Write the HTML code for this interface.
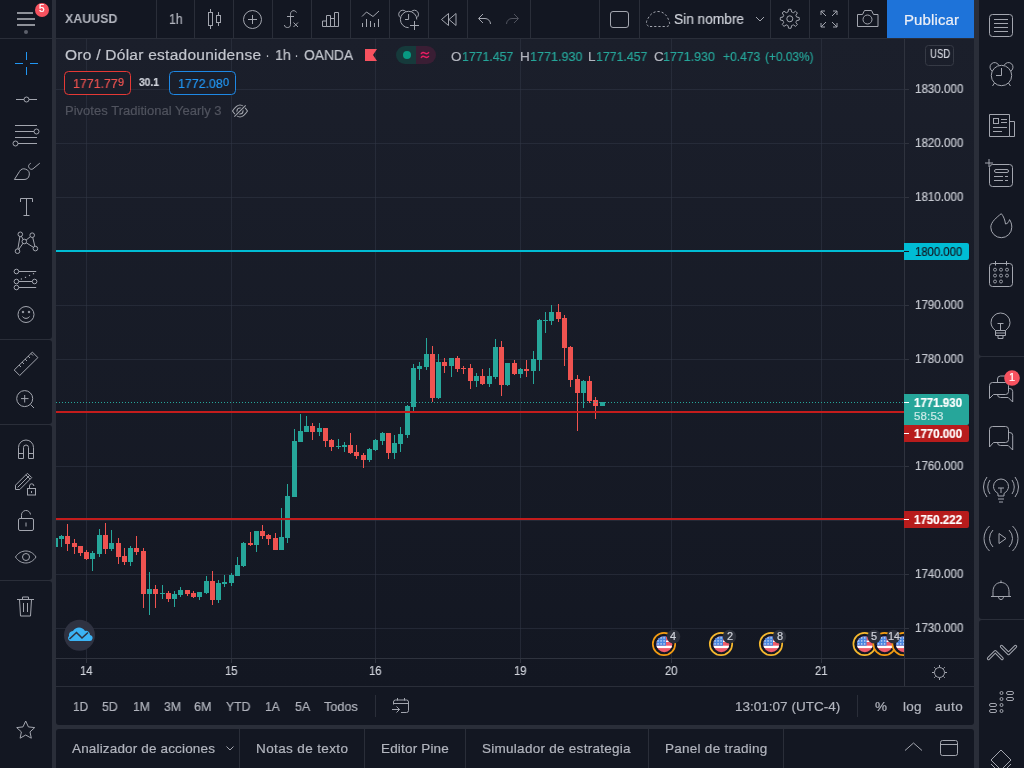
<!DOCTYPE html>
<html><head><meta charset="utf-8">
<style>
*{margin:0;padding:0;box-sizing:border-box}
html,body{width:1024px;height:768px;overflow:hidden;background:#131722;font-family:"Liberation Sans",sans-serif}
.a{position:absolute}
.t{position:absolute;white-space:pre;line-height:1;will-change:transform;-webkit-text-stroke:0.2px currentColor}
svg{position:absolute}
</style></head><body>
<div class="a" style="left:52px;top:0;width:4px;height:768px;background:#2a2e39"></div>
<div class="a" style="left:974px;top:0;width:5px;height:768px;background:#2a2e39"></div>
<div class="a" style="left:0;top:38px;width:974px;height:1px;background:#2a2e39"></div>
<div class="a" style="left:0;top:339px;width:52px;height:1px;background:#2a2e39"></div>
<div class="a" style="left:0;top:424px;width:52px;height:1px;background:#2a2e39"></div>
<div class="a" style="left:0;top:580px;width:52px;height:1px;background:#2a2e39"></div>
<div class="a" style="left:979px;top:356px;width:45px;height:1px;background:#2a2e39"></div>
<div class="a" style="left:979px;top:619px;width:45px;height:1px;background:#2a2e39"></div>
<div class="a" style="left:56px;top:725px;width:918px;height:4px;background:#2a2e39"></div>

<svg width="1024" height="768" style="left:0;top:0">
<defs><linearGradient id="cbg" x1="0" y1="0" x2="0" y2="1"><stop offset="0" stop-color="#1b1f2b"/><stop offset="1" stop-color="#131722"/></linearGradient><clipPath id="chart"><rect x="56" y="39" width="848" height="619"/></clipPath><clipPath id="ev"><rect x="56" y="39" width="848" height="619"/></clipPath></defs>
<rect x="56" y="39" width="918" height="647" fill="url(#cbg)"/>
<rect x="56" y="89" width="853" height="1" fill="rgba(50,54,70,0.55)"/>
<rect x="56" y="143" width="853" height="1" fill="rgba(50,54,70,0.55)"/>
<rect x="56" y="197" width="853" height="1" fill="rgba(50,54,70,0.55)"/>
<rect x="56" y="305" width="853" height="1" fill="rgba(50,54,70,0.55)"/>
<rect x="56" y="359" width="853" height="1" fill="rgba(50,54,70,0.55)"/>
<rect x="56" y="412" width="853" height="1" fill="rgba(50,54,70,0.55)"/>
<rect x="56" y="466" width="853" height="1" fill="rgba(50,54,70,0.55)"/>
<rect x="56" y="520" width="853" height="1" fill="rgba(50,54,70,0.55)"/>
<rect x="56" y="574" width="853" height="1" fill="rgba(50,54,70,0.55)"/>
<rect x="56" y="628" width="853" height="1" fill="rgba(50,54,70,0.55)"/>
<rect x="86" y="39" width="1" height="624" fill="rgba(50,54,70,0.55)"/>
<rect x="231" y="39" width="1" height="624" fill="rgba(50,54,70,0.55)"/>
<rect x="375" y="39" width="1" height="624" fill="rgba(50,54,70,0.55)"/>
<rect x="520" y="39" width="1" height="624" fill="rgba(50,54,70,0.55)"/>
<rect x="671" y="39" width="1" height="624" fill="rgba(50,54,70,0.55)"/>
<rect x="821" y="39" width="1" height="624" fill="rgba(50,54,70,0.55)"/>
<rect x="904" y="39" width="1" height="647" fill="#2f333e"/>
<rect x="56" y="658" width="918" height="1" fill="#2f333e"/>
<rect x="56" y="686" width="918" height="1" fill="#2a2e39"/>
<g fill="#2f333e"><rect x="904" y="89" width="5" height="1"/><rect x="904" y="143" width="5" height="1"/><rect x="904" y="197" width="5" height="1"/><rect x="904" y="305" width="5" height="1"/><rect x="904" y="359" width="5" height="1"/><rect x="904" y="412" width="5" height="1"/><rect x="904" y="466" width="5" height="1"/><rect x="904" y="520" width="5" height="1"/><rect x="904" y="574" width="5" height="1"/><rect x="904" y="628" width="5" height="1"/></g>
<g fill="#2f333e"><rect x="86" y="659" width="1" height="4"/><rect x="231" y="659" width="1" height="4"/><rect x="375" y="659" width="1" height="4"/><rect x="520" y="659" width="1" height="4"/><rect x="671" y="659" width="1" height="4"/><rect x="821" y="659" width="1" height="4"/></g>
<rect x="56" y="250" width="848" height="2" fill="#00bcd4"/>
<g clip-path="url(#chart)"><rect x="55" y="538" width="1" height="9" fill="#26a69a"/>
<rect x="53" y="538" width="5" height="9" fill="#26a69a"/>
<rect x="61" y="535" width="1" height="12" fill="#26a69a"/>
<rect x="59" y="536" width="5" height="3" fill="#26a69a"/>
<rect x="67" y="524" width="1" height="27" fill="#ef5350"/>
<rect x="65" y="536" width="5" height="8" fill="#ef5350"/>
<rect x="74" y="539" width="1" height="15" fill="#ef5350"/>
<rect x="72" y="543" width="5" height="4" fill="#ef5350"/>
<rect x="80" y="546" width="1" height="10" fill="#ef5350"/>
<rect x="78" y="546" width="5" height="7" fill="#ef5350"/>
<rect x="86" y="550" width="1" height="10" fill="#ef5350"/>
<rect x="84" y="552" width="5" height="7" fill="#ef5350"/>
<rect x="92" y="551" width="1" height="20" fill="#26a69a"/>
<rect x="90" y="553" width="5" height="6" fill="#26a69a"/>
<rect x="99" y="529" width="1" height="28" fill="#26a69a"/>
<rect x="97" y="535" width="5" height="19" fill="#26a69a"/>
<rect x="105" y="523" width="1" height="31" fill="#ef5350"/>
<rect x="103" y="535" width="5" height="14" fill="#ef5350"/>
<rect x="111" y="530" width="1" height="21" fill="#26a69a"/>
<rect x="109" y="543" width="5" height="6" fill="#26a69a"/>
<rect x="118" y="538" width="1" height="26" fill="#ef5350"/>
<rect x="116" y="543" width="5" height="14" fill="#ef5350"/>
<rect x="124" y="548" width="1" height="17" fill="#ef5350"/>
<rect x="122" y="556" width="5" height="6" fill="#ef5350"/>
<rect x="130" y="546" width="1" height="20" fill="#26a69a"/>
<rect x="128" y="548" width="5" height="14" fill="#26a69a"/>
<rect x="136" y="536" width="1" height="19" fill="#ef5350"/>
<rect x="134" y="548" width="5" height="4" fill="#ef5350"/>
<rect x="143" y="548" width="1" height="60" fill="#ef5350"/>
<rect x="141" y="551" width="5" height="43" fill="#ef5350"/>
<rect x="149" y="572" width="1" height="43" fill="#26a69a"/>
<rect x="147" y="589" width="5" height="5" fill="#26a69a"/>
<rect x="155" y="585" width="1" height="23" fill="#ef5350"/>
<rect x="153" y="589" width="5" height="5" fill="#ef5350"/>
<rect x="162" y="585" width="1" height="14" fill="#26a69a"/>
<rect x="160" y="593" width="5" height="1" fill="#26a69a"/>
<rect x="168" y="591" width="1" height="11" fill="#ef5350"/>
<rect x="166" y="593" width="5" height="6" fill="#ef5350"/>
<rect x="174" y="591" width="1" height="16" fill="#26a69a"/>
<rect x="172" y="594" width="5" height="5" fill="#26a69a"/>
<rect x="180" y="587" width="1" height="10" fill="#26a69a"/>
<rect x="178" y="590" width="5" height="5" fill="#26a69a"/>
<rect x="187" y="590" width="1" height="6" fill="#ef5350"/>
<rect x="185" y="590" width="5" height="4" fill="#ef5350"/>
<rect x="193" y="591" width="1" height="7" fill="#ef5350"/>
<rect x="191" y="593" width="5" height="4" fill="#ef5350"/>
<rect x="199" y="592" width="1" height="8" fill="#26a69a"/>
<rect x="197" y="592" width="5" height="5" fill="#26a69a"/>
<rect x="206" y="576" width="1" height="18" fill="#26a69a"/>
<rect x="204" y="581" width="5" height="12" fill="#26a69a"/>
<rect x="212" y="571" width="1" height="34" fill="#ef5350"/>
<rect x="210" y="581" width="5" height="19" fill="#ef5350"/>
<rect x="218" y="580" width="1" height="23" fill="#26a69a"/>
<rect x="216" y="583" width="5" height="17" fill="#26a69a"/>
<rect x="224" y="575" width="1" height="12" fill="#26a69a"/>
<rect x="222" y="582" width="5" height="2" fill="#26a69a"/>
<rect x="231" y="573" width="1" height="13" fill="#26a69a"/>
<rect x="229" y="575" width="5" height="8" fill="#26a69a"/>
<rect x="237" y="557" width="1" height="19" fill="#26a69a"/>
<rect x="235" y="565" width="5" height="11" fill="#26a69a"/>
<rect x="243" y="542" width="1" height="25" fill="#26a69a"/>
<rect x="241" y="543" width="5" height="23" fill="#26a69a"/>
<rect x="250" y="532" width="1" height="14" fill="#ef5350"/>
<rect x="248" y="543" width="5" height="2" fill="#ef5350"/>
<rect x="256" y="531" width="1" height="21" fill="#26a69a"/>
<rect x="254" y="531" width="5" height="14" fill="#26a69a"/>
<rect x="262" y="525" width="1" height="14" fill="#ef5350"/>
<rect x="260" y="531" width="5" height="5" fill="#ef5350"/>
<rect x="268" y="534" width="1" height="11" fill="#ef5350"/>
<rect x="266" y="535" width="5" height="4" fill="#ef5350"/>
<rect x="275" y="533" width="1" height="17" fill="#ef5350"/>
<rect x="273" y="538" width="5" height="12" fill="#ef5350"/>
<rect x="281" y="508" width="1" height="42" fill="#26a69a"/>
<rect x="279" y="537" width="5" height="13" fill="#26a69a"/>
<rect x="287" y="484" width="1" height="59" fill="#26a69a"/>
<rect x="285" y="496" width="5" height="42" fill="#26a69a"/>
<rect x="294" y="429" width="1" height="68" fill="#26a69a"/>
<rect x="292" y="441" width="5" height="56" fill="#26a69a"/>
<rect x="300" y="414" width="1" height="28" fill="#26a69a"/>
<rect x="298" y="431" width="5" height="11" fill="#26a69a"/>
<rect x="306" y="416" width="1" height="16" fill="#26a69a"/>
<rect x="304" y="426" width="5" height="6" fill="#26a69a"/>
<rect x="312" y="423" width="1" height="17" fill="#ef5350"/>
<rect x="310" y="426" width="5" height="6" fill="#ef5350"/>
<rect x="319" y="423" width="1" height="13" fill="#26a69a"/>
<rect x="317" y="428" width="5" height="4" fill="#26a69a"/>
<rect x="325" y="428" width="1" height="19" fill="#ef5350"/>
<rect x="323" y="428" width="5" height="13" fill="#ef5350"/>
<rect x="331" y="439" width="1" height="12" fill="#ef5350"/>
<rect x="329" y="440" width="5" height="7" fill="#ef5350"/>
<rect x="338" y="439" width="1" height="10" fill="#26a69a"/>
<rect x="336" y="446" width="5" height="1" fill="#26a69a"/>
<rect x="344" y="442" width="1" height="10" fill="#26a69a"/>
<rect x="342" y="445" width="5" height="2" fill="#26a69a"/>
<rect x="350" y="433" width="1" height="21" fill="#ef5350"/>
<rect x="348" y="445" width="5" height="8" fill="#ef5350"/>
<rect x="356" y="445" width="1" height="14" fill="#ef5350"/>
<rect x="354" y="452" width="5" height="4" fill="#ef5350"/>
<rect x="363" y="453" width="1" height="15" fill="#ef5350"/>
<rect x="361" y="455" width="5" height="5" fill="#ef5350"/>
<rect x="369" y="448" width="1" height="14" fill="#26a69a"/>
<rect x="367" y="449" width="5" height="11" fill="#26a69a"/>
<rect x="375" y="439" width="1" height="12" fill="#26a69a"/>
<rect x="373" y="440" width="5" height="10" fill="#26a69a"/>
<rect x="382" y="432" width="1" height="13" fill="#26a69a"/>
<rect x="380" y="433" width="5" height="8" fill="#26a69a"/>
<rect x="388" y="433" width="1" height="26" fill="#ef5350"/>
<rect x="386" y="433" width="5" height="20" fill="#ef5350"/>
<rect x="394" y="435" width="1" height="24" fill="#26a69a"/>
<rect x="392" y="443" width="5" height="10" fill="#26a69a"/>
<rect x="400" y="427" width="1" height="25" fill="#26a69a"/>
<rect x="398" y="434" width="5" height="10" fill="#26a69a"/>
<rect x="407" y="405" width="1" height="33" fill="#26a69a"/>
<rect x="405" y="406" width="5" height="29" fill="#26a69a"/>
<rect x="413" y="364" width="1" height="47" fill="#26a69a"/>
<rect x="411" y="368" width="5" height="39" fill="#26a69a"/>
<rect x="419" y="362" width="1" height="18" fill="#26a69a"/>
<rect x="417" y="366" width="5" height="3" fill="#26a69a"/>
<rect x="426" y="338" width="1" height="32" fill="#26a69a"/>
<rect x="424" y="354" width="5" height="13" fill="#26a69a"/>
<rect x="432" y="346" width="1" height="56" fill="#ef5350"/>
<rect x="430" y="354" width="5" height="44" fill="#ef5350"/>
<rect x="438" y="354" width="1" height="45" fill="#26a69a"/>
<rect x="436" y="362" width="5" height="36" fill="#26a69a"/>
<rect x="444" y="358" width="1" height="15" fill="#ef5350"/>
<rect x="442" y="362" width="5" height="4" fill="#ef5350"/>
<rect x="451" y="358" width="1" height="19" fill="#26a69a"/>
<rect x="449" y="358" width="5" height="8" fill="#26a69a"/>
<rect x="457" y="356" width="1" height="16" fill="#ef5350"/>
<rect x="455" y="358" width="5" height="11" fill="#ef5350"/>
<rect x="463" y="366" width="1" height="8" fill="#ef5350"/>
<rect x="461" y="368" width="5" height="1" fill="#ef5350"/>
<rect x="470" y="364" width="1" height="25" fill="#ef5350"/>
<rect x="468" y="368" width="5" height="13" fill="#ef5350"/>
<rect x="476" y="373" width="1" height="14" fill="#26a69a"/>
<rect x="474" y="376" width="5" height="5" fill="#26a69a"/>
<rect x="482" y="369" width="1" height="16" fill="#ef5350"/>
<rect x="480" y="376" width="5" height="8" fill="#ef5350"/>
<rect x="489" y="368" width="1" height="19" fill="#26a69a"/>
<rect x="487" y="376" width="5" height="8" fill="#26a69a"/>
<rect x="495" y="339" width="1" height="40" fill="#26a69a"/>
<rect x="493" y="347" width="5" height="30" fill="#26a69a"/>
<rect x="501" y="341" width="1" height="55" fill="#ef5350"/>
<rect x="499" y="347" width="5" height="38" fill="#ef5350"/>
<rect x="507" y="363" width="1" height="23" fill="#26a69a"/>
<rect x="505" y="363" width="5" height="22" fill="#26a69a"/>
<rect x="514" y="360" width="1" height="15" fill="#ef5350"/>
<rect x="512" y="363" width="5" height="11" fill="#ef5350"/>
<rect x="520" y="368" width="1" height="10" fill="#26a69a"/>
<rect x="518" y="369" width="5" height="5" fill="#26a69a"/>
<rect x="526" y="360" width="1" height="17" fill="#ef5350"/>
<rect x="524" y="369" width="5" height="2" fill="#ef5350"/>
<rect x="533" y="351" width="1" height="33" fill="#26a69a"/>
<rect x="531" y="359" width="5" height="12" fill="#26a69a"/>
<rect x="539" y="319" width="1" height="52" fill="#26a69a"/>
<rect x="537" y="320" width="5" height="40" fill="#26a69a"/>
<rect x="545" y="312" width="1" height="21" fill="#26a69a"/>
<rect x="543" y="320" width="5" height="1" fill="#26a69a"/>
<rect x="551" y="305" width="1" height="20" fill="#26a69a"/>
<rect x="549" y="312" width="5" height="9" fill="#26a69a"/>
<rect x="558" y="304" width="1" height="18" fill="#ef5350"/>
<rect x="556" y="312" width="5" height="7" fill="#ef5350"/>
<rect x="564" y="315" width="1" height="51" fill="#ef5350"/>
<rect x="562" y="318" width="5" height="30" fill="#ef5350"/>
<rect x="570" y="346" width="1" height="41" fill="#ef5350"/>
<rect x="568" y="347" width="5" height="33" fill="#ef5350"/>
<rect x="577" y="375" width="1" height="56" fill="#ef5350"/>
<rect x="575" y="379" width="5" height="14" fill="#ef5350"/>
<rect x="583" y="380" width="1" height="28" fill="#26a69a"/>
<rect x="581" y="381" width="5" height="12" fill="#26a69a"/>
<rect x="589" y="376" width="1" height="27" fill="#ef5350"/>
<rect x="587" y="381" width="5" height="20" fill="#ef5350"/>
<rect x="595" y="397" width="1" height="22" fill="#ef5350"/>
<rect x="593" y="400" width="5" height="6" fill="#ef5350"/>
<rect x="602" y="402" width="1" height="4" fill="#26a69a"/>
<rect x="600" y="402" width="5" height="4" fill="#26a69a"/></g>
<rect x="56" y="411" width="848" height="2" fill="#c41c1c"/>
<rect x="56" y="518" width="848" height="2" fill="#c41c1c"/>
<line x1="56" y1="402.5" x2="904" y2="402.5" stroke="#26a69a" stroke-width="1" stroke-dasharray="1 2"/>
<!-- price labels -->
<path d="M904 243h63a2 2 0 0 1 2 2v13a2 2 0 0 1-2 2h-63z" fill="#00bcd4"/>
<rect x="904" y="251" width="5" height="1" fill="#131722"/>
<path d="M904 394h63a2 2 0 0 1 2 2v27a2 2 0 0 1-2 2h-63z" fill="#26a69a"/>
<rect x="904" y="402" width="5" height="1" fill="#ffffff"/>
<path d="M904 425h63a2 2 0 0 1 2 2v13a2 2 0 0 1-2 2h-63z" fill="#b71c1c"/>
<rect x="904" y="433" width="5" height="1" fill="#ffffff"/>
<path d="M904 511h63a2 2 0 0 1 2 2v13a2 2 0 0 1-2 2h-63z" fill="#b71c1c"/>
<rect x="904" y="519" width="5" height="1" fill="#ffffff"/>
<g fill="none" stroke="#a3a6af" stroke-width="1"><circle cx="939.5" cy="672.5" r="5"/><path d="M939.5 665v2M939.5 678v2M932 672.5h2M945 672.5h2M934.2 667.2l1.4 1.4M943.4 676.4l1.4 1.4M934.2 677.8l1.4-1.4M943.4 668.6l1.4-1.4"/></g>
<rect x="375" y="695" width="1" height="22" fill="#2a2e39"/>
<rect x="857" y="695" width="1" height="22" fill="#2a2e39"/>
<g fill="none" stroke="#a3a6af" stroke-width="1"><path d="M393.5 704.5V702a2 2 0 0 1 2-2h11a2 2 0 0 1 2 2v8.5a2 2 0 0 1-2 2h-5.5M393.5 703.5h15M397.5 698v2.5M404.5 698v2.5M392 709.5h7.5M396.5 706.5l3 3-3 3"/></g>
<rect x="239" y="729" width="1" height="39" fill="#2a2e39"/>
<rect x="364" y="729" width="1" height="39" fill="#2a2e39"/>
<rect x="465" y="729" width="1" height="39" fill="#2a2e39"/>
<rect x="648" y="729" width="1" height="39" fill="#2a2e39"/>
<rect x="783" y="729" width="1" height="39" fill="#2a2e39"/>
<path d="M226.5 746.5l3.5 3.5 3.5-3.5" fill="none" stroke="#a3a6af" stroke-width="1"/>
<path d="M905 750.5l8.5-7.5 8.5 7.5" fill="none" stroke="#a3a6af" stroke-width="1"/>
<g fill="none" stroke="#a3a6af" stroke-width="1"><rect x="940.5" y="740.5" width="17" height="15" rx="2"/><path d="M940.5 744.5h17"/></g>
<g fill="#2a2e39">
<path d="M56 722V725H59A3 3 0 0 1 56 722Z"/><path d="M56 729H59A3 3 0 0 0 56 732Z"/>
<path d="M974 722V725H971A3 3 0 0 0 974 722Z"/><path d="M974 729H971A3 3 0 0 1 974 732Z"/>
<path d="M52 336V339H49A3 3 0 0 0 52 336Z"/><path d="M52 343V340H49A3 3 0 0 1 52 343Z"/>
<path d="M52 421V424H49A3 3 0 0 0 52 421Z"/><path d="M52 428V425H49A3 3 0 0 1 52 428Z"/>
<path d="M52 577V580H49A3 3 0 0 0 52 577Z"/><path d="M52 584V581H49A3 3 0 0 1 52 584Z"/>
<path d="M979 353V356H982A3 3 0 0 1 979 353Z"/><path d="M979 360V357H982A3 3 0 0 0 979 360Z"/>
<path d="M979 616V619H982A3 3 0 0 1 979 616Z"/><path d="M979 623V620H982A3 3 0 0 0 979 623Z"/>
</g>
<g clip-path="url(#ev)"><circle cx="664" cy="644" r="11.2" fill="#131722" stroke="#f39c12" stroke-width="1.7"/>
<clipPath id="f664"><circle cx="664.3" cy="644.2" r="8"/></clipPath><g clip-path="url(#f664)"><rect x="656" y="636" width="17" height="17" fill="#f05a6a"/><rect x="656" y="640.6" width="17" height="1.4" fill="#fff"/><rect x="656" y="645.7" width="17" height="2.4" fill="#fff"/><rect x="656" y="636" width="10" height="9.7" fill="#4a86e0"/>
<rect x="657.4" y="637.2" width="1.4" height="1.4" fill="#c6d8f5"/>
<rect x="660.4" y="637.2" width="1.4" height="1.4" fill="#c6d8f5"/>
<rect x="663.4" y="637.2" width="1.4" height="1.4" fill="#c6d8f5"/>
<rect x="657.4" y="640.2" width="1.4" height="1.4" fill="#c6d8f5"/>
<rect x="660.4" y="640.2" width="1.4" height="1.4" fill="#c6d8f5"/>
<rect x="663.4" y="640.2" width="1.4" height="1.4" fill="#c6d8f5"/>
<rect x="657.4" y="643.2" width="1.4" height="1.4" fill="#c6d8f5"/>
<rect x="660.4" y="643.2" width="1.4" height="1.4" fill="#c6d8f5"/>
<rect x="663.4" y="643.2" width="1.4" height="1.4" fill="#c6d8f5"/>
</g>
<circle cx="721" cy="644" r="11.2" fill="#131722" stroke="#f5b82e" stroke-width="1.7"/>
<clipPath id="f721"><circle cx="721.3" cy="644.2" r="8"/></clipPath><g clip-path="url(#f721)"><rect x="713" y="636" width="17" height="17" fill="#f05a6a"/><rect x="713" y="640.6" width="17" height="1.4" fill="#fff"/><rect x="713" y="645.7" width="17" height="2.4" fill="#fff"/><rect x="713" y="636" width="10" height="9.7" fill="#4a86e0"/>
<rect x="714.4" y="637.2" width="1.4" height="1.4" fill="#c6d8f5"/>
<rect x="717.4" y="637.2" width="1.4" height="1.4" fill="#c6d8f5"/>
<rect x="720.4" y="637.2" width="1.4" height="1.4" fill="#c6d8f5"/>
<rect x="714.4" y="640.2" width="1.4" height="1.4" fill="#c6d8f5"/>
<rect x="717.4" y="640.2" width="1.4" height="1.4" fill="#c6d8f5"/>
<rect x="720.4" y="640.2" width="1.4" height="1.4" fill="#c6d8f5"/>
<rect x="714.4" y="643.2" width="1.4" height="1.4" fill="#c6d8f5"/>
<rect x="717.4" y="643.2" width="1.4" height="1.4" fill="#c6d8f5"/>
<rect x="720.4" y="643.2" width="1.4" height="1.4" fill="#c6d8f5"/>
</g>
<circle cx="771" cy="644" r="11.2" fill="#131722" stroke="#f5b82e" stroke-width="1.7"/>
<clipPath id="f771"><circle cx="771.3" cy="644.2" r="8"/></clipPath><g clip-path="url(#f771)"><rect x="763" y="636" width="17" height="17" fill="#f05a6a"/><rect x="763" y="640.6" width="17" height="1.4" fill="#fff"/><rect x="763" y="645.7" width="17" height="2.4" fill="#fff"/><rect x="763" y="636" width="10" height="9.7" fill="#4a86e0"/>
<rect x="764.4" y="637.2" width="1.4" height="1.4" fill="#c6d8f5"/>
<rect x="767.4" y="637.2" width="1.4" height="1.4" fill="#c6d8f5"/>
<rect x="770.4" y="637.2" width="1.4" height="1.4" fill="#c6d8f5"/>
<rect x="764.4" y="640.2" width="1.4" height="1.4" fill="#c6d8f5"/>
<rect x="767.4" y="640.2" width="1.4" height="1.4" fill="#c6d8f5"/>
<rect x="770.4" y="640.2" width="1.4" height="1.4" fill="#c6d8f5"/>
<rect x="764.4" y="643.2" width="1.4" height="1.4" fill="#c6d8f5"/>
<rect x="767.4" y="643.2" width="1.4" height="1.4" fill="#c6d8f5"/>
<rect x="770.4" y="643.2" width="1.4" height="1.4" fill="#c6d8f5"/>
</g>
<circle cx="864.6" cy="644" r="11.2" fill="#131722" stroke="#f5b82e" stroke-width="1.7"/>
<clipPath id="f864"><circle cx="864.9" cy="644.2" r="8"/></clipPath><g clip-path="url(#f864)"><rect x="856.6" y="636" width="17" height="17" fill="#f05a6a"/><rect x="856.6" y="640.6" width="17" height="1.4" fill="#fff"/><rect x="856.6" y="645.7" width="17" height="2.4" fill="#fff"/><rect x="856.6" y="636" width="10" height="9.7" fill="#4a86e0"/>
<rect x="858.0" y="637.2" width="1.4" height="1.4" fill="#c6d8f5"/>
<rect x="861.0" y="637.2" width="1.4" height="1.4" fill="#c6d8f5"/>
<rect x="864.0" y="637.2" width="1.4" height="1.4" fill="#c6d8f5"/>
<rect x="858.0" y="640.2" width="1.4" height="1.4" fill="#c6d8f5"/>
<rect x="861.0" y="640.2" width="1.4" height="1.4" fill="#c6d8f5"/>
<rect x="864.0" y="640.2" width="1.4" height="1.4" fill="#c6d8f5"/>
<rect x="858.0" y="643.2" width="1.4" height="1.4" fill="#c6d8f5"/>
<rect x="861.0" y="643.2" width="1.4" height="1.4" fill="#c6d8f5"/>
<rect x="864.0" y="643.2" width="1.4" height="1.4" fill="#c6d8f5"/>
</g>
<circle cx="884.5" cy="644" r="11.2" fill="#131722" stroke="#f39c12" stroke-width="1.7"/>
<clipPath id="f884"><circle cx="884.8" cy="644.2" r="8"/></clipPath><g clip-path="url(#f884)"><rect x="876.5" y="636" width="17" height="17" fill="#f05a6a"/><rect x="876.5" y="640.6" width="17" height="1.4" fill="#fff"/><rect x="876.5" y="645.7" width="17" height="2.4" fill="#fff"/><rect x="876.5" y="636" width="10" height="9.7" fill="#4a86e0"/>
<rect x="877.9" y="637.2" width="1.4" height="1.4" fill="#c6d8f5"/>
<rect x="880.9" y="637.2" width="1.4" height="1.4" fill="#c6d8f5"/>
<rect x="883.9" y="637.2" width="1.4" height="1.4" fill="#c6d8f5"/>
<rect x="877.9" y="640.2" width="1.4" height="1.4" fill="#c6d8f5"/>
<rect x="880.9" y="640.2" width="1.4" height="1.4" fill="#c6d8f5"/>
<rect x="883.9" y="640.2" width="1.4" height="1.4" fill="#c6d8f5"/>
<rect x="877.9" y="643.2" width="1.4" height="1.4" fill="#c6d8f5"/>
<rect x="880.9" y="643.2" width="1.4" height="1.4" fill="#c6d8f5"/>
<rect x="883.9" y="643.2" width="1.4" height="1.4" fill="#c6d8f5"/>
</g>
<circle cx="903.6" cy="644" r="11.2" fill="#131722" stroke="#f39c12" stroke-width="1.7"/>
<clipPath id="f903"><circle cx="903.9" cy="644.2" r="8"/></clipPath><g clip-path="url(#f903)"><rect x="895.6" y="636" width="17" height="17" fill="#f05a6a"/><rect x="895.6" y="640.6" width="17" height="1.4" fill="#fff"/><rect x="895.6" y="645.7" width="17" height="2.4" fill="#fff"/><rect x="895.6" y="636" width="10" height="9.7" fill="#4a86e0"/>
<rect x="897.0" y="637.2" width="1.4" height="1.4" fill="#c6d8f5"/>
<rect x="900.0" y="637.2" width="1.4" height="1.4" fill="#c6d8f5"/>
<rect x="903.0" y="637.2" width="1.4" height="1.4" fill="#c6d8f5"/>
<rect x="897.0" y="640.2" width="1.4" height="1.4" fill="#c6d8f5"/>
<rect x="900.0" y="640.2" width="1.4" height="1.4" fill="#c6d8f5"/>
<rect x="903.0" y="640.2" width="1.4" height="1.4" fill="#c6d8f5"/>
<rect x="897.0" y="643.2" width="1.4" height="1.4" fill="#c6d8f5"/>
<rect x="900.0" y="643.2" width="1.4" height="1.4" fill="#c6d8f5"/>
<rect x="903.0" y="643.2" width="1.4" height="1.4" fill="#c6d8f5"/>
</g>
<circle cx="673.5" cy="636.6" r="6.8" fill="#2a2e39"/>
<circle cx="729.5" cy="636.6" r="6.8" fill="#2a2e39"/>
<circle cx="779.5" cy="636.6" r="6.8" fill="#2a2e39"/>
<circle cx="874.2" cy="636.6" r="6.8" fill="#2a2e39"/>
<circle cx="893.4" cy="636.6" r="6.8" fill="#2a2e39"/></g>
<rect x="17" y="12" width="16" height="2" fill="#8e9199"/><rect x="17" y="18" width="18" height="2" fill="#8e9199"/><rect x="17" y="24" width="18" height="2" fill="#8e9199"/><circle cx="26" cy="32" r="2" fill="#5d606b"/>
<circle cx="42" cy="10" r="7" fill="#f7525f"/>
<rect x="156" y="0" width="1" height="38" fill="#2a2e39"/>
<rect x="194" y="0" width="1" height="38" fill="#2a2e39"/>
<rect x="233" y="0" width="1" height="38" fill="#2a2e39"/>
<rect x="272" y="0" width="1" height="38" fill="#2a2e39"/>
<rect x="311" y="0" width="1" height="38" fill="#2a2e39"/>
<rect x="350" y="0" width="1" height="38" fill="#2a2e39"/>
<rect x="389" y="0" width="1" height="38" fill="#2a2e39"/>
<rect x="428" y="0" width="1" height="38" fill="#2a2e39"/>
<rect x="467" y="0" width="1" height="38" fill="#2a2e39"/>
<rect x="530" y="0" width="1" height="38" fill="#2a2e39"/>
<rect x="599" y="0" width="1" height="38" fill="#2a2e39"/>
<rect x="639" y="0" width="1" height="38" fill="#2a2e39"/>
<rect x="770" y="0" width="1" height="38" fill="#2a2e39"/>
<rect x="809" y="0" width="1" height="38" fill="#2a2e39"/>
<rect x="848" y="0" width="1" height="38" fill="#2a2e39"/>
<g fill="none" stroke="#a3a6af" stroke-width="1"><rect x="208.5" y="12.5" width="4" height="13"/><path d="M210.5 9v3.5M210.5 25.5V29"/><rect x="216.5" y="15.5" width="4" height="7"/><path d="M218.5 12v3.5M218.5 22.5V26"/></g>
<g fill="none" stroke="#a3a6af" stroke-width="1"><circle cx="252.5" cy="19.5" r="9"/><path d="M248 19.5h9M252.5 15v9"/></g>
<g fill="none" stroke="#a3a6af" stroke-width="1"><path d="M296.5 12.5c-1-2-3.5-2.5-5-1-1 1-1 2-1 4v9c0 2-1 3-3 3s-3-1-3-2.5M287 16.5h7M293.5 22.5l4.5 4.5M298 22.5l-4.5 4.5"/></g>
<g fill="none" stroke="#a3a6af" stroke-width="1"><path d="M322.5 26.5v-5.5h4v5.5zM326.5 26.5v-11h4v11zM330.5 26.5v-8h4v8zM334.5 26.5v-14h4v14z"/></g>
<g fill="none" stroke="#a3a6af" stroke-width="1"><path d="M362 16.5l4.5-4.5 6.5 4.5 6-5.5M362.5 27v-4M366.5 27v-8M370.5 27v-6M374.5 27v-4M378.5 27v-8"/></g>
<g fill="none" stroke="#a3a6af" stroke-width="1"><path d="M408.6 27.7A8.2 8.2 0 1 1 416.8 19.5"/><path d="M400.5 17.7A4.1 4.1 0 1 1 405.8 11.5M411.4 11.5A4.1 4.1 0 1 1 416.7 17.7"/><path d="M408.6 14v5.5h-3.6M414.5 21v9M410 25.5h9"/></g>
<g fill="none" stroke="#a3a6af" stroke-width="1"><path d="M448.5 13.5v12l-7-6zM456 13.5v12l-7-6z"/></g>
<g fill="none" stroke="#a3a6af" stroke-width="1"><path d="M483 14l-4.5 4.5 4.5 4.5M479 18.5h6a5.5 5.5 0 0 1 5.5 5.5"/></g>
<g fill="none" stroke="#50535e" stroke-width="1"><path d="M514 14l4.5 4.5-4.5 4.5M518 18.5h-6a5.5 5.5 0 0 0-5.5 5.5"/></g>
<rect x="610.5" y="11.5" width="18" height="16" rx="2.5" fill="none" stroke="#a3a6af" stroke-width="1"/>
<path d="M650 26.5H666.5C669.5 26.5 670.5 23.5 669 21.5C667.5 15 663 11.5 658 11.5C653 11.5 649.5 15 647.5 19.5C645.5 22 646.5 26.5 650 26.5Z" fill="none" stroke="#a3a6af" stroke-width="1" stroke-dasharray="2.2 2"/>
<path d="M756 17l4 4 4-4" fill="none" stroke="#a3a6af" stroke-width="1"/>
<g fill="none" stroke="#a3a6af" stroke-width="1"><polygon points="799.30,18.80 799.22,20.04 796.56,20.61 796.27,21.48 795.86,22.30 797.34,24.58 796.52,25.52 795.58,26.34 793.30,24.86 792.48,25.27 791.61,25.56 791.04,28.22 789.80,28.30 788.56,28.22 787.99,25.56 787.12,25.27 786.30,24.86 784.02,26.34 783.08,25.52 782.26,24.58 783.74,22.30 783.33,21.48 783.04,20.61 780.38,20.04 780.30,18.80 780.38,17.56 783.04,16.99 783.33,16.12 783.74,15.30 782.26,13.02 783.08,12.08 784.02,11.26 786.30,12.74 787.12,12.33 787.99,12.04 788.56,9.38 789.80,9.30 791.04,9.38 791.61,12.04 792.48,12.33 793.30,12.74 795.58,11.26 796.52,12.08 797.34,13.02 795.86,15.30 796.27,16.12 796.56,16.99 799.22,17.56" stroke-linejoin="round"/><circle cx="789.8" cy="18.8" r="3"/></g>
<g fill="none" stroke="#a3a6af" stroke-width="1"><path d="M821 15v-4h4M821 11l5 5M837 15v-4h-4M837 11l-5 5M821 23v4h4M821 27l5-5M837 23v4h-4M837 27l-5-5"/></g>
<g fill="none" stroke="#a3a6af" stroke-width="1"><path d="M857.5 14.5h5l2-4h7l2 4h4.5v12h-20.5z" stroke-linejoin="round"/><circle cx="867.5" cy="19.5" r="4.5"/></g>
<rect x="887" y="0" width="87" height="38" fill="#1e73d9"/>
<path d="M365 49h12l-4 6 4 6h-12z" fill="#f7525f"/>
<path d="M405 46h11v18h-11a9 9 0 0 1 0-18z" fill="#163a3b"/><path d="M416 46h11a9 9 0 0 1 0 18h-11z" fill="#3a1e34"/>
<circle cx="407" cy="55" r="4" fill="#089981"/>
<path d="M421.3 53.6c1-1.3 2.3-1.3 3.6-0.5s2.7 0.8 3.7-0.5M421.3 57.4c1-1.3 2.3-1.3 3.6-0.5s2.7 0.8 3.7-0.5" fill="none" stroke="#e91e63" stroke-width="1.4" stroke-linecap="round"/>
<rect x="64.5" y="71.5" width="66" height="23" rx="4" fill="#1a1e2a" stroke="#e53935"/>
<rect x="169.5" y="71.5" width="66" height="23" rx="4" fill="#1a1e2a" stroke="#1e88e5"/>
<g fill="none" stroke="#a0a3ab" stroke-width="1.1"><path d="M232.5 111C235.5 106.5 238.5 105 240 105C241.5 105 244.5 106.5 247.5 111C244.5 115.5 241.5 117 240 117C238.5 117 235.5 115.5 232.5 111Z"/><circle cx="240" cy="111" r="3"/><path d="M234.3 116.7L245.7 105.3" stroke="#1a1e2a" stroke-width="3"/><path d="M234.3 116.7L245.7 105.3"/></g>
<rect x="925.5" y="45.5" width="28" height="20" rx="3" fill="none" stroke="#363a45"/>
<g fill="#2196f3"><rect x="26" y="52" width="1" height="8"/><rect x="26" y="67" width="1" height="8"/><rect x="15" y="63" width="8" height="1"/><rect x="30" y="63" width="8" height="1"/></g>
<g fill="none" stroke="#a3a6af" stroke-width="1"><path d="M16 99.5h8M29 99.5h8"/><circle cx="26.5" cy="99.5" r="2.5"/></g>
<g fill="none" stroke="#a3a6af" stroke-width="1"><path d="M15 125.5h22M15 131.5h19M15 137.5h22M18 143.5h19"/><circle cx="36.5" cy="131.5" r="2.5"/><circle cx="15.5" cy="143.5" r="2.5"/></g>
<g fill="none" stroke="#a3a6af" stroke-width="1"><path d="M14.4 179.5H24a5.3 5.3 0 1 0-4.6-7.9Z" stroke-linejoin="round"/><path d="M30.5 163.4C28.5 164.5 27.8 166.5 29.5 168.3C30.5 169.4 31.7 169.7 33 168.8L39.5 163.4" stroke-linecap="round"/></g>
<g fill="none" stroke="#a3a6af" stroke-width="1"><path d="M20.5 202v-3.5h12v3.5M26.5 198.5v17M23.5 215.5h6"/></g>
<g fill="none" stroke="#a3a6af" stroke-width="1"><path d="M20.3 234.3L17.5 251.2M20.3 234.3L24.3 241.5M24.3 241.5L32.2 235.2M32.2 235.2L35.4 248.6M24.3 241.5L35.4 248.6M17.5 251.2L24.3 241.5"/>
<circle cx="20.3" cy="234.3" r="2.3" fill="#131722"/>
<circle cx="32.2" cy="235.2" r="2.3" fill="#131722"/>
<circle cx="24.3" cy="241.5" r="2.3" fill="#131722"/>
<circle cx="35.4" cy="248.6" r="2.3" fill="#131722"/>
<circle cx="17.5" cy="251.2" r="2.3" fill="#131722"/>
</g>
<g fill="none" stroke="#a3a6af" stroke-width="1"><path d="M18.7 271.5h17.5M18.7 281.5h13.6M18.7 287.5h17.5"/>
<circle cx="16.4" cy="271.5" r="2.3" fill="#131722"/>
<circle cx="16.4" cy="281.5" r="2.3" fill="#131722"/>
<circle cx="34.6" cy="281.5" r="2.3" fill="#131722"/>
<circle cx="16.4" cy="287.5" r="2.3" fill="#131722"/>
</g>
<rect x="20.799999999999997" y="278.4" width="1.2" height="1.2" fill="#a3a6af"/>
<rect x="24.9" y="276.79999999999995" width="1.2" height="1.2" fill="#a3a6af"/>
<rect x="28.9" y="274.9" width="1.2" height="1.2" fill="#a3a6af"/>
<rect x="32.9" y="273.09999999999997" width="1.2" height="1.2" fill="#a3a6af"/>
<g fill="none" stroke="#a3a6af" stroke-width="1"><circle cx="26" cy="314.5" r="8"/><path d="M22.5 316.5c1.5 2.5 5.5 2.5 7 0"/><circle cx="23" cy="312" r="0.8" fill="#a3a6af"/><circle cx="29" cy="312" r="0.8" fill="#a3a6af"/></g>
<g fill="none" stroke="#a3a6af" stroke-width="1"><path d="M14.2 370L32.4 352.1L37.9 357.6L19.7 375.5z" stroke-linejoin="round"/><path d="M19 365l2 2M22 362l2 2M25 359l2 2M28 356l2 2M31 353.5l2 2"/></g>
<g fill="none" stroke="#a3a6af" stroke-width="1"><circle cx="24.7" cy="398.6" r="8"/><path d="M30.5 404.5l3.5 3.5M21 398.6h7.5M24.7 395v7.5"/></g>
<g fill="none" stroke="#a3a6af" stroke-width="1"><path d="M18.5 458.5v-11a7.5 7.5 0 0 1 15 0v11h-5v-11a2.5 2.5 0 0 0-5 0v11z"/><path d="M18.5 453.5h5M28.5 453.5h5"/></g>
<g fill="none" stroke="#a3a6af" stroke-width="1"><path d="M15.5 489.5V485.2L27.4 473.3L31.7 477.6L19.8 489.5Z" stroke-linejoin="round"/><path d="M17.6 487.4L29.5 475.5M25.9 474.8L30.2 479.1"/><rect x="27.5" y="488.5" width="8" height="6.5"/><path d="M29.5 488.5V486a2.2 2.2 0 0 1 4.4 0M31.5 491v2"/></g>
<g fill="none" stroke="#a3a6af" stroke-width="1"><rect x="18.5" y="518.5" width="15" height="12" rx="1.5"/><path d="M21.5 518.5v-3a4.5 4.5 0 0 1 9 -1"/><path d="M26 522.5v4"/></g>
<g fill="none" stroke="#a3a6af" stroke-width="1"><path d="M15.5 557c5-8 15.5-8 20.5 0-5 8-15.5 8-20.5 0z"/><circle cx="26" cy="557" r="3.5"/></g>
<g fill="none" stroke="#a3a6af" stroke-width="1"><path d="M17 599.5h17M22.5 599.5v-2.5h6v2.5M19.5 599.5l1 16.5h10l1-16.5M23.5 603v9M27.5 603v9"/></g>
<path d="M25.7 721l2.7 5.9 6.3.7-4.7 4.3 1.3 6.3-5.6-3.2-5.6 3.2 1.3-6.3-4.7-4.3 6.3-.7z" fill="none" stroke="#a3a6af" stroke-width="1" stroke-linejoin="round"/>
<g fill="none" stroke="#a3a6af" stroke-width="1"><rect x="989.5" y="14.5" width="23" height="22" rx="3"/><path d="M994 19.5h14M994 23.5h14M994 27.5h14M994 31.5h14"/></g>
<g fill="none" stroke="#a3a6af" stroke-width="1"><circle cx="1001.5" cy="75.5" r="10.2"/><path d="M992.6 71.3A4.6 4.6 0 1 1 998.8 65.3M1004.2 65.3A4.6 4.6 0 1 1 1010.4 71.3"/><path d="M1001.5 68v7.5h-5.5M994.5 83l-2 3M1008.5 83l2 3"/></g>
<g fill="none" stroke="#a3a6af" stroke-width="1"><path d="M989.5 114.5h20v22h-20z M1009.5 121.5h5v15h-5"/><rect x="993.5" y="118.5" width="5" height="5"/><path d="M1001 119.5h6M1001 122.5h6M993 127.5h14M993 131.5h9"/></g>
<g fill="none" stroke="#a3a6af" stroke-width="1"><rect x="989.5" y="164.5" width="23" height="22" rx="3"/><path d="M985 163h8M989 159v8"/><rect x="994.5" y="169.5" width="14" height="3" rx="1.5"/><path d="M994 176.5h9M1005 176.5h3M994 180.5h9M1005 180.5h3"/></g>
<g fill="none" stroke="#a3a6af" stroke-width="1"><path d="M1001.3 213.7C997 217 990.8 222 990.8 227.2A10.5 10.5 0 0 0 1011.8 227.2C1011.8 224 1010.8 221.5 1009.5 219.6C1009 222 1007.5 223.7 1005.5 224C1005 220 1003.5 216 1001.3 213.7z" stroke-linejoin="round"/></g>
<g fill="none" stroke="#a3a6af" stroke-width="1"><rect x="989.5" y="263.5" width="23" height="23" rx="3"/><path d="M995.5 261v4.5M1006.5 261v4.5"/></g>
<circle cx="995" cy="269.7" r="1.5" fill="none" stroke="#a3a6af" stroke-width="0.9"/>
<circle cx="1001" cy="269.7" r="1.5" fill="none" stroke="#a3a6af" stroke-width="0.9"/>
<circle cx="1007" cy="269.7" r="1.5" fill="none" stroke="#a3a6af" stroke-width="0.9"/>
<circle cx="995" cy="275.6" r="1.5" fill="none" stroke="#a3a6af" stroke-width="0.9"/>
<circle cx="1001" cy="275.6" r="1.5" fill="none" stroke="#a3a6af" stroke-width="0.9"/>
<circle cx="1007" cy="275.6" r="1.5" fill="none" stroke="#a3a6af" stroke-width="0.9"/>
<circle cx="995" cy="281.5" r="1.5" fill="none" stroke="#a3a6af" stroke-width="0.9"/>
<circle cx="1001" cy="281.5" r="1.5" fill="none" stroke="#a3a6af" stroke-width="0.9"/>
<g fill="none" stroke="#a3a6af" stroke-width="1"><path d="M995.5 330.5c-2.5-2-4.5-4.5-4.5-8a9.5 9.5 0 0 1 19 0c0 3.5-2 6-4.5 8z M995.5 330.5v5h10v-5M995.5 333h10M998 335.5v3h5v-3M997.5 323.5h6M1000.5 323.5v7"/></g>
<g fill="none" stroke="#a3a6af" stroke-width="1"><path d="M989.5 398.5V385.5a3 3 0 0 1 3-3h13a3 3 0 0 1 3 3v6a3 3 0 0 1-3 3H993.5z" stroke-linejoin="round"/><path d="M997.5 382.5V379a3 3 0 0 1 3-3h9M1008.5 388.5h1.2a3 3 0 0 1 3 3V402l-4.5-4.5H1000.5a3 3 0 0 1-3-3" stroke-linejoin="round"/></g>
<circle cx="1012" cy="378" r="7.8" fill="#f7525f"/>
<g fill="none" stroke="#a3a6af" stroke-width="1"><path d="M989.5 447V429.5a3 3 0 0 1 3-3h13a3 3 0 0 1 3 3v10a3 3 0 0 1-3 3H993.5z" stroke-linejoin="round"/><path d="M1008.5 432.5h1.2a3 3 0 0 1 3 3V450l-4.5-4.5H1000.5a3 3 0 0 1-3-3" stroke-linejoin="round"/></g>
<g fill="none" stroke="#a3a6af" stroke-width="1"><path d="M998 496v-2.5c-2.5-1.5-4.5-4-4.5-7a7.5 7.5 0 0 1 15 0c0 3-2 5.5-4.5 7v2.5z M998 499h6M999 502h4M998 488h6M1001 488v5"/><path d="M990 480a12 12 0 0 0 0 14M987 477a16 16 0 0 0 0 20M1012 480a12 12 0 0 1 0 14M1015 477a16 16 0 0 1 0 20"/></g>
<g fill="none" stroke="#a3a6af" stroke-width="1"><path d="M999 533.5v10l7-5z" stroke-linejoin="round"/><path d="M993 530a12 12 0 0 0 0 17M989.5 526a17 17 0 0 0 0 25M1009 530a12 12 0 0 1 0 17M1012.5 526a17 17 0 0 1 0 25"/></g>
<g fill="none" stroke="#a3a6af" stroke-width="1"><path d="M991 596.5h20M993 596.5v-5c0-5 3-9 8-9s8 4 8 9v5M998.5 596.5c0 2 1 3 2.5 3s2.5-1 2.5-3M1001 580.5v2"/></g>
<g fill="none" stroke="#a3a6af" stroke-width="3.2" stroke-linejoin="round" stroke-linecap="round"><path d="M988.5 658.5l6.8-6.8 6.8 6.8M1001.5 646.5l7 7 7-7"/></g><g fill="none" stroke="#131722" stroke-width="1.2" stroke-linejoin="round" stroke-linecap="round"><path d="M988.5 658.5l6.8-6.8 6.8 6.8M1001.5 646.5l7 7 7-7"/></g>
<g fill="none" stroke="#a3a6af" stroke-width="1"><rect x="1006.5" y="691.5" width="7" height="3" rx="1.5"/><rect x="1006.5" y="697.5" width="7" height="3" rx="1.5"/><circle cx="1001.5" cy="693" r="1.5"/><circle cx="1001.5" cy="699" r="1.5"/><rect x="989.5" y="703.5" width="7" height="3" rx="1.5"/><rect x="989.5" y="709.5" width="7" height="3" rx="1.5"/><circle cx="1001.5" cy="705" r="1.5"/><circle cx="1001.5" cy="711" r="1.5"/></g>
<g fill="none" stroke="#a3a6af" stroke-width="1"><path d="M991 760l10-10 10 10-10 10z M991 764l10 10 10-10"/></g>
<!-- logo -->
<circle cx="79.5" cy="635.2" r="15.5" fill="#2f3241"/>
<path d="M70 641h19a3 3 0 0 0 1-6 4 4 0 0 0-5-4 7 7 0 0 0-12 0 4 4 0 0 0-4 5 3 3 0 0 0 1 5z" fill="#3bb3f4"/>
<path d="M69.5 639l7-6.5 5.5 5.5 6-5.5" fill="none" stroke="#2f3241" stroke-width="1.6"/>
</svg>
<div class="t" style="left:64.8px;top:11.98px;font-size:13.5px;font-weight:bold;color:#b2b5be;letter-spacing:0.000px;transform:scaleX(0.9190);transform-origin:0 0;-webkit-text-stroke:0">XAUUSD</div>
<div class="t" style="left:168.8px;top:11.53px;font-size:14px;font-weight:normal;color:#b2b5be;letter-spacing:0.000px;transform:scaleX(0.8794);transform-origin:0 0;">1h</div>
<div class="t" style="left:673.7px;top:11.53px;font-size:14px;font-weight:normal;color:#d1d4dc;letter-spacing:0.000px;transform:scaleX(0.9777);transform-origin:0 0;">Sin nombre</div>
<div class="t" style="left:903.5px;top:12.22px;font-size:15px;font-weight:normal;color:#eef0f6;letter-spacing:0.114px;">Publicar</div>
<div class="t" style="left:65.1px;top:47.47px;font-size:15.5px;font-weight:normal;color:#c3c6ce;letter-spacing:0.258px;">Oro / Dólar estadounidense</div>
<div class="t" style="left:265.5px;top:47.47px;font-size:15.5px;font-weight:normal;color:#c3c6ce;letter-spacing:0.000px;transform:scaleX(0.5801);transform-origin:0 0;">·</div>
<div class="t" style="left:274.8px;top:47.47px;font-size:15.5px;font-weight:normal;color:#c3c6ce;letter-spacing:0.000px;transform:scaleX(0.9275);transform-origin:0 0;">1h</div>
<div class="t" style="left:294.5px;top:47.47px;font-size:15.5px;font-weight:normal;color:#c3c6ce;letter-spacing:0.000px;transform:scaleX(0.5801);transform-origin:0 0;">·</div>
<div class="t" style="left:303.8px;top:47.47px;font-size:15.5px;font-weight:normal;color:#c3c6ce;letter-spacing:0.000px;transform:scaleX(0.8925);transform-origin:0 0;">OANDA</div>
<div class="t" style="left:451.0px;top:49.58px;font-size:13.5px;font-weight:normal;color:#b2b5be;letter-spacing:0.000px;">O</div>
<div class="t" style="left:462.4px;top:49.58px;font-size:13.5px;font-weight:normal;color:#26a69a;letter-spacing:0.000px;transform:scaleX(0.9110);transform-origin:0 0;">1771.457</div>
<div class="t" style="left:519.5px;top:49.58px;font-size:13.5px;font-weight:normal;color:#b2b5be;letter-spacing:0.000px;">H</div>
<div class="t" style="left:529.7px;top:49.58px;font-size:13.5px;font-weight:normal;color:#26a69a;letter-spacing:0.000px;transform:scaleX(0.9323);transform-origin:0 0;">1771.930</div>
<div class="t" style="left:588.2px;top:49.58px;font-size:13.5px;font-weight:normal;color:#b2b5be;letter-spacing:0.000px;">L</div>
<div class="t" style="left:596.4px;top:49.58px;font-size:13.5px;font-weight:normal;color:#26a69a;letter-spacing:0.000px;transform:scaleX(0.9128);transform-origin:0 0;">1771.457</div>
<div class="t" style="left:653.8px;top:49.58px;font-size:13.5px;font-weight:normal;color:#b2b5be;letter-spacing:0.000px;">C</div>
<div class="t" style="left:663.4px;top:49.58px;font-size:13.5px;font-weight:normal;color:#26a69a;letter-spacing:0.000px;transform:scaleX(0.9216);transform-origin:0 0;">1771.930</div>
<div class="t" style="left:722.7px;top:49.58px;font-size:13.5px;font-weight:normal;color:#26a69a;letter-spacing:0.000px;transform:scaleX(0.8903);transform-origin:0 0;">+0.473</div>
<div class="t" style="left:765.3px;top:49.58px;font-size:13.5px;font-weight:normal;color:#26a69a;letter-spacing:0.000px;transform:scaleX(0.8775);transform-origin:0 0;">(+0.03%)</div>
<div class="t" style="left:72.6px;top:76.73px;font-size:13px;font-weight:normal;color:#ef5350;letter-spacing:0.000px;transform:scaleX(0.9511);transform-origin:0 0;">1771.77</div>
<div class="t" style="left:117.6px;top:76.84px;font-size:11px;font-weight:normal;color:#ef5350;letter-spacing:0.000px;">9</div>
<div class="t" style="left:139.4px;top:77.25px;font-size:11px;font-weight:bold;color:#d1d4dc;letter-spacing:0.000px;transform:scaleX(0.9336);transform-origin:0 0;">30.1</div>
<div class="t" style="left:177.8px;top:76.73px;font-size:13px;font-weight:normal;color:#2196f3;letter-spacing:0.000px;transform:scaleX(0.9511);transform-origin:0 0;">1772.08</div>
<div class="t" style="left:222.5px;top:76.84px;font-size:11px;font-weight:normal;color:#2196f3;letter-spacing:0.000px;">0</div>
<div class="t" style="left:65.2px;top:104.23px;font-size:13px;font-weight:normal;color:#50535e;letter-spacing:0.018px;">Pivotes Traditional Yearly 3</div>
<div class="t" style="left:929.8px;top:47.77px;font-size:12.3px;font-weight:normal;color:#d1d4dc;letter-spacing:0.000px;transform:scaleX(0.7779);transform-origin:0 0;">USD</div>
<div class="t" style="left:914.5px;top:83.04px;font-size:12px;font-weight:normal;color:#c8cbd3;letter-spacing:0.000px;transform:scaleX(0.9648);transform-origin:0 0;">1830.000</div>
<div class="t" style="left:914.5px;top:137.04px;font-size:12px;font-weight:normal;color:#c8cbd3;letter-spacing:0.000px;transform:scaleX(0.9648);transform-origin:0 0;">1820.000</div>
<div class="t" style="left:914.5px;top:191.04px;font-size:12px;font-weight:normal;color:#c8cbd3;letter-spacing:0.000px;transform:scaleX(0.9648);transform-origin:0 0;">1810.000</div>
<div class="t" style="left:914.5px;top:299.04px;font-size:12px;font-weight:normal;color:#c8cbd3;letter-spacing:0.000px;transform:scaleX(0.9648);transform-origin:0 0;">1790.000</div>
<div class="t" style="left:914.5px;top:353.04px;font-size:12px;font-weight:normal;color:#c8cbd3;letter-spacing:0.000px;transform:scaleX(0.9648);transform-origin:0 0;">1780.000</div>
<div class="t" style="left:914.5px;top:460.04px;font-size:12px;font-weight:normal;color:#c8cbd3;letter-spacing:0.000px;transform:scaleX(0.9648);transform-origin:0 0;">1760.000</div>
<div class="t" style="left:914.5px;top:568.04px;font-size:12px;font-weight:normal;color:#c8cbd3;letter-spacing:0.000px;transform:scaleX(0.9648);transform-origin:0 0;">1740.000</div>
<div class="t" style="left:914.5px;top:622.04px;font-size:12px;font-weight:normal;color:#c8cbd3;letter-spacing:0.000px;transform:scaleX(0.9648);transform-origin:0 0;">1730.000</div>
<div class="t" style="left:915.0px;top:246.14px;font-size:12px;font-weight:normal;color:#131722;letter-spacing:0.000px;transform:scaleX(0.9428);transform-origin:0 0;">1800.000</div>
<div class="t" style="left:914.2px;top:397.14px;font-size:12px;font-weight:bold;color:#ffffff;letter-spacing:0.000px;transform:scaleX(0.9588);transform-origin:0 0;">1771.930</div>
<div class="t" style="left:914.2px;top:411.09px;font-size:11.5px;font-weight:normal;color:rgba(255,255,255,0.7);letter-spacing:0.130px;">58:53</div>
<div class="t" style="left:914.2px;top:428.14px;font-size:12px;font-weight:bold;color:#ffffff;letter-spacing:0.000px;transform:scaleX(0.9588);transform-origin:0 0;">1770.000</div>
<div class="t" style="left:914.2px;top:514.14px;font-size:12px;font-weight:bold;color:#ffffff;letter-spacing:0.000px;transform:scaleX(0.9588);transform-origin:0 0;">1750.222</div>
<div class="t" style="left:80.2px;top:665.49px;font-size:12.5px;font-weight:normal;color:#d1d4dc;letter-spacing:0.000px;transform:scaleX(0.8917);transform-origin:0 0;">14</div>
<div class="t" style="left:224.9px;top:665.49px;font-size:12.5px;font-weight:normal;color:#d1d4dc;letter-spacing:0.000px;transform:scaleX(0.8917);transform-origin:0 0;">15</div>
<div class="t" style="left:369.3px;top:665.49px;font-size:12.5px;font-weight:normal;color:#d1d4dc;letter-spacing:0.000px;transform:scaleX(0.8917);transform-origin:0 0;">16</div>
<div class="t" style="left:514.1px;top:665.49px;font-size:12.5px;font-weight:normal;color:#d1d4dc;letter-spacing:0.000px;transform:scaleX(0.8917);transform-origin:0 0;">19</div>
<div class="t" style="left:665.4px;top:665.49px;font-size:12.5px;font-weight:normal;color:#d1d4dc;letter-spacing:0.000px;transform:scaleX(0.8917);transform-origin:0 0;">20</div>
<div class="t" style="left:815.1px;top:665.49px;font-size:12.5px;font-weight:normal;color:#d1d4dc;letter-spacing:0.000px;transform:scaleX(0.8917);transform-origin:0 0;">21</div>
<div class="t" style="left:72.5px;top:699.58px;font-size:13.5px;font-weight:normal;color:#b2b5be;letter-spacing:0.000px;transform:scaleX(0.8804);transform-origin:0 0;">1D</div>
<div class="t" style="left:102.2px;top:699.58px;font-size:13.5px;font-weight:normal;color:#b2b5be;letter-spacing:0.000px;transform:scaleX(0.9093);transform-origin:0 0;">5D</div>
<div class="t" style="left:132.6px;top:699.58px;font-size:13.5px;font-weight:normal;color:#b2b5be;letter-spacing:0.000px;transform:scaleX(0.9059);transform-origin:0 0;">1M</div>
<div class="t" style="left:163.6px;top:699.58px;font-size:13.5px;font-weight:normal;color:#b2b5be;letter-spacing:0.000px;transform:scaleX(0.9112);transform-origin:0 0;">3M</div>
<div class="t" style="left:194.3px;top:699.58px;font-size:13.5px;font-weight:normal;color:#b2b5be;letter-spacing:0.000px;transform:scaleX(0.9326);transform-origin:0 0;">6M</div>
<div class="t" style="left:225.8px;top:699.58px;font-size:13.5px;font-weight:normal;color:#b2b5be;letter-spacing:0.000px;transform:scaleX(0.9037);transform-origin:0 0;">YTD</div>
<div class="t" style="left:265.1px;top:699.58px;font-size:13.5px;font-weight:normal;color:#b2b5be;letter-spacing:0.000px;transform:scaleX(0.8961);transform-origin:0 0;">1A</div>
<div class="t" style="left:294.5px;top:699.58px;font-size:13.5px;font-weight:normal;color:#b2b5be;letter-spacing:0.000px;transform:scaleX(0.9203);transform-origin:0 0;">5A</div>
<div class="t" style="left:324.4px;top:699.58px;font-size:13.5px;font-weight:normal;color:#b2b5be;letter-spacing:0.000px;transform:scaleX(0.9381);transform-origin:0 0;">Todos</div>
<div class="t" style="left:735.0px;top:699.58px;font-size:13.5px;font-weight:normal;color:#b2b5be;letter-spacing:0.010px;">13:01:07 (UTC-4)</div>
<div class="t" style="left:874.8px;top:699.58px;font-size:13.5px;font-weight:normal;color:#b2b5be;letter-spacing:0.000px;">%</div>
<div class="t" style="left:902.6px;top:699.58px;font-size:13.5px;font-weight:normal;color:#b2b5be;letter-spacing:0.192px;">log</div>
<div class="t" style="left:935.2px;top:699.58px;font-size:13.5px;font-weight:normal;color:#b2b5be;letter-spacing:0.473px;">auto</div>
<div class="t" style="left:72.2px;top:742.08px;font-size:13.5px;font-weight:normal;color:#b2b5be;letter-spacing:0.157px;">Analizador de acciones</div>
<div class="t" style="left:256.0px;top:742.08px;font-size:13.5px;font-weight:normal;color:#b2b5be;letter-spacing:0.380px;">Notas de texto</div>
<div class="t" style="left:381.0px;top:742.08px;font-size:13.5px;font-weight:normal;color:#b2b5be;letter-spacing:0.175px;">Editor Pine</div>
<div class="t" style="left:482.3px;top:742.08px;font-size:13.5px;font-weight:normal;color:#b2b5be;letter-spacing:0.273px;">Simulador de estrategia</div>
<div class="t" style="left:664.9px;top:742.08px;font-size:13.5px;font-weight:normal;color:#b2b5be;letter-spacing:0.265px;">Panel de trading</div>
<div class="t" style="left:39.2px;top:4.25px;font-size:10px;font-weight:normal;color:#ffffff;letter-spacing:0.000px;">5</div>
<div class="t" style="left:1009.2px;top:372.05px;font-size:11px;font-weight:normal;color:#ffffff;letter-spacing:0.000px;">1</div>
<div class="t" style="left:670.0px;top:631.04px;font-size:11px;font-weight:normal;color:#d1d4dc;letter-spacing:0.000px;transform:scaleX(0.9796);transform-origin:0 0;">4</div>
<div class="t" style="left:726.5px;top:631.04px;font-size:11px;font-weight:normal;color:#d1d4dc;letter-spacing:0.000px;transform:scaleX(0.9796);transform-origin:0 0;">2</div>
<div class="t" style="left:776.5px;top:631.04px;font-size:11px;font-weight:normal;color:#d1d4dc;letter-spacing:0.000px;transform:scaleX(0.9796);transform-origin:0 0;">8</div>
<div class="t" style="left:871.2px;top:631.04px;font-size:11px;font-weight:normal;color:#d1d4dc;letter-spacing:0.000px;transform:scaleX(0.9796);transform-origin:0 0;">5</div>
<div class="t" style="left:887.5px;top:631.04px;font-size:11px;font-weight:normal;color:#d1d4dc;letter-spacing:0.000px;transform:scaleX(0.9796);transform-origin:0 0;">14</div>
</body></html>
